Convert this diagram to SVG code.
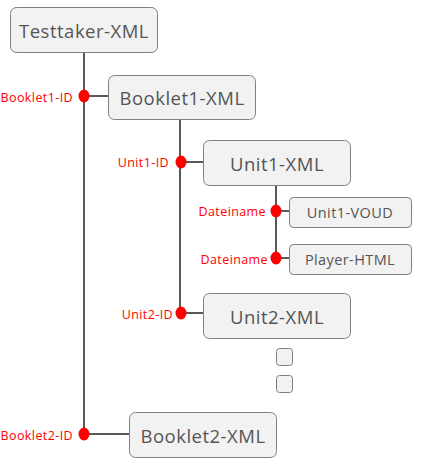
<svg xmlns="http://www.w3.org/2000/svg" width="429" height="466" viewBox="0 0 429 466">
  <style>
    .box { fill: #f2f2f2; stroke: #808080; stroke-width: 1; }
    .big { font-family: "Open Sans", "Noto Sans", sans-serif; font-size: 18.5px; letter-spacing: 0.5px; fill: #555555; text-anchor: middle; dominant-baseline: central; }
    .small { font-family: "Open Sans", "Noto Sans", sans-serif; font-size: 14.5px; letter-spacing: 0.4px; fill: #555555; text-anchor: middle; dominant-baseline: central; }
    .lbl { font-family: "Open Sans", "Noto Sans", sans-serif; font-size: 12.5px; letter-spacing: 0.4px; fill: #ff0000; text-anchor: end; dominant-baseline: central; }
    .line { stroke: #595959; stroke-width: 2; fill: none; }
    .dot { fill: #ff0000; }
  </style>

  <!-- connectors -->
  <g id="connectors">
    <path class="line" d="M84 52 V434 M84 96 H108"/>
    <path class="line" d="M180 119 V313 M181 162 H203 M181 313 H203"/>
    <path class="line" d="M276 185 V258 M276 211 H289 M276 258 H289"/>
    <path class="line" d="M84 434 H129"/>
    <ellipse class="dot" cx="84" cy="96" rx="5.5" ry="6.5"/>
    <ellipse class="dot" cx="181" cy="162" rx="5.5" ry="6.5"/>
    <ellipse class="dot" cx="276" cy="211" rx="5.5" ry="6.5"/>
    <ellipse class="dot" cx="276" cy="258" rx="5.5" ry="6.5"/>
    <ellipse class="dot" cx="181" cy="313" rx="5.5" ry="6.5"/>
    <ellipse class="dot" cx="84" cy="434" rx="5.5" ry="6.5"/>
    <text class="lbl" x="73" y="97">Booklet1-ID</text>
    <text class="lbl" x="169" y="162">Unit1-ID</text>
    <text class="lbl" x="266" y="211">Dateiname</text>
    <text class="lbl" x="268" y="259">Dateiname</text>
    <text class="lbl" x="173" y="314">Unit2-ID</text>
    <text class="lbl" x="73" y="435">Booklet2-ID</text>
  </g>

  <g id="testtaker">
    <rect class="box" x="10.5" y="7.5" width="147" height="45" rx="6"/>
    <text class="big" x="84" y="30">Testtaker-XML</text>
  </g>
  <g id="booklet1">
    <rect class="box" x="108.5" y="75.5" width="147" height="44" rx="6"/>
    <text class="big" x="182" y="97">Booklet1-XML</text>
  </g>
  <g id="unit1">
    <rect class="box" x="203.5" y="140.5" width="147" height="45" rx="6"/>
    <text class="big" x="277" y="163">Unit1-XML</text>
  </g>
  <g id="unit1-voud">
    <rect class="box" x="289.5" y="197.5" width="122" height="30" rx="4"/>
    <text class="small" x="350" y="212">Unit1-VOUD</text>
  </g>
  <g id="player-html">
    <rect class="box" x="289.5" y="244.5" width="122" height="30" rx="4"/>
    <text class="small" x="350" y="259">Player-HTML</text>
  </g>
  <g id="unit2">
    <rect class="box" x="203.5" y="293.5" width="147" height="45" rx="6"/>
    <text class="big" x="277" y="316">Unit2-XML</text>
  </g>
  <g id="more1">
    <rect class="box" x="276.5" y="348.5" width="16" height="17" rx="3"/>
  </g>
  <g id="more2">
    <rect class="box" x="276.5" y="375.5" width="16" height="17" rx="3"/>
  </g>
  <g id="booklet2">
    <rect class="box" x="129.5" y="412.5" width="147" height="45" rx="6"/>
    <text class="big" x="203" y="435">Booklet2-XML</text>
  </g>
</svg>
